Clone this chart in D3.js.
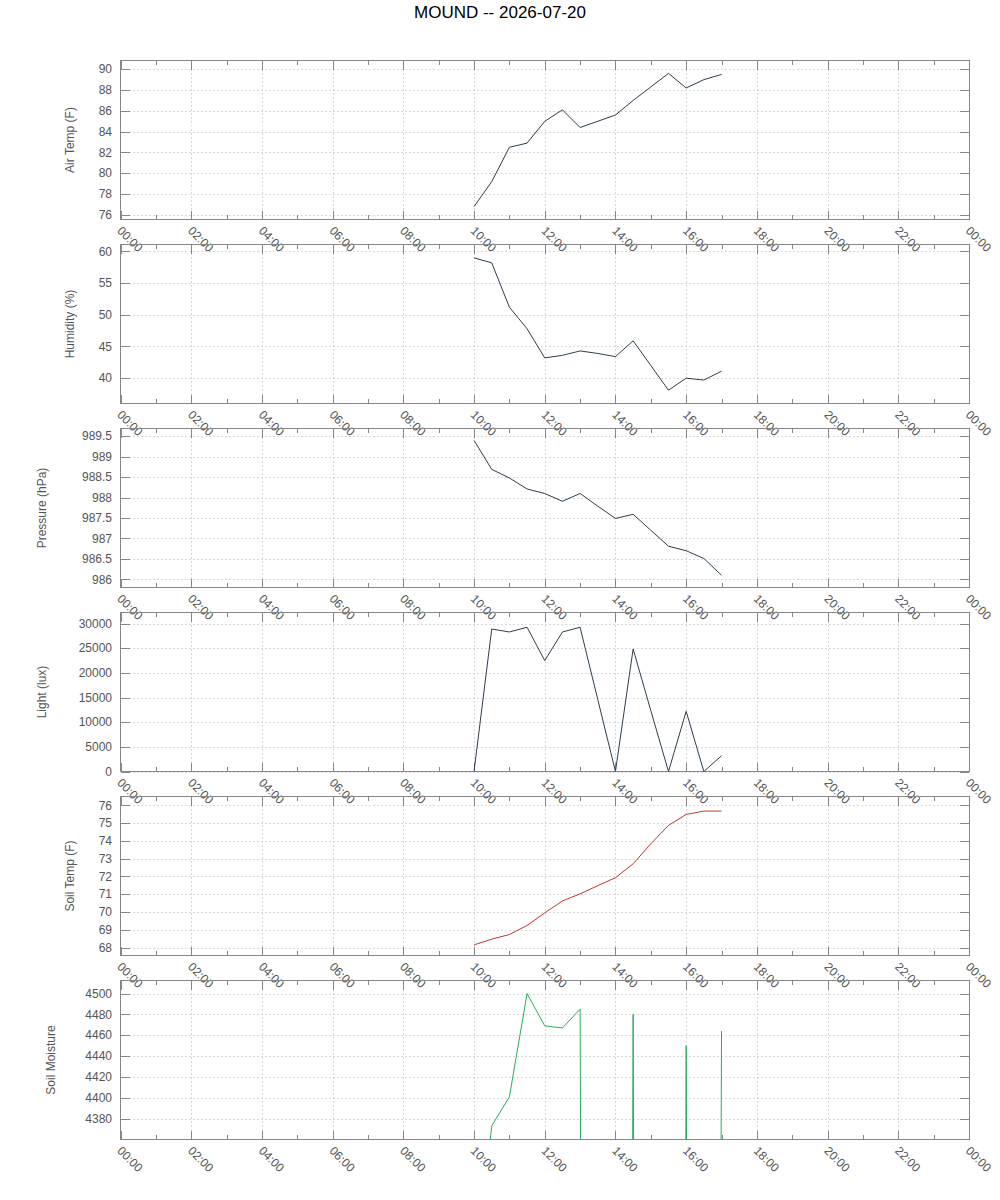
<!DOCTYPE html>
<html>
<head>
<meta charset="utf-8">
<script src="https://cdn.jsdelivr.net/npm/d3@7/dist/d3.min.js"></script>
<style>
  html, body { margin: 0; padding: 0; background: #fff; }
  svg { display: block; font-family: "Liberation Sans", Arial, sans-serif; }
</style>
</head>
<body>
<svg id="chart" width="1000" height="1200"></svg>
<script>
// ---- data ----
const chartTitle = "MOUND -- 2026-07-20";
const times = ["10:00","10:30","11:00","11:30","12:00","12:30","13:00","13:30",
               "14:00","14:30","15:00","15:30","16:00","16:30","17:00"];
const airTemp   = [76.8, 79.2, 82.5, 82.9, 85.0, 86.1, 84.4, 85.0, 85.6, 87.0, 88.3, 89.6, 88.2, 89.0, 89.5];
const humidity  = [59.0, 58.2, 51.2, 47.8, 43.2, 43.6, 44.3, 43.9, 43.4, 45.9, 42.0, 38.1, 40.0, 39.7, 41.1];
const pressure  = [989.40, 988.69, 988.48, 988.21, 988.10, 987.91, 988.10, 987.79, 987.49, 987.59, 987.20, 986.81, 986.70, 986.51, 986.10];
const light     = [0, 28900, 28300, 29250, 22500, 28300, 29250, 14600, 0, 24850, 12350, 0, 12200, 0, 3200];
const soilTemp  = [68.15, 68.47, 68.73, 69.24, 69.95, 70.62, 71.02, 71.48, 71.93, 72.71, 73.84, 74.87, 75.49, 75.68, 75.68];
const soilMoist = [4210, 4373, 4401, 4500, 4469, 4467, 4485, 0, 0, 4480, 0, 0, 4450, 0, 4464];

const xTickLabels = ["00:00","02:00","04:00","06:00","08:00","10:00","12:00",
                     "14:00","16:00","18:00","20:00","22:00","00:00"];

const panelLabels = ["Air Temp (F)", "Humidity (%)", "Pressure (hPa)", "Light (lux)", "Soil Temp (F)", "Soil Moisture"];
const panelSeries = [airTemp, humidity, pressure, light, soilTemp, soilMoist];
const panelDomains = [[75.56, 90.84], [36.0, 61.1], [985.80, 989.69], [0, 32250], [67.55, 76.5], [4360, 4512.5]];
const panelTicks = [
  [76, 78, 80, 82, 84, 86, 88, 90],
  [40, 45, 50, 55, 60],
  [986, 986.5, 987, 987.5, 988, 988.5, 989, 989.5],
  [0, 5000, 10000, 15000, 20000, 25000, 30000],
  [68, 69, 70, 71, 72, 73, 74, 75, 76],
  [4380, 4400, 4420, 4440, 4460, 4480, 4500]
];
const panelColors = ["#2c3e50", "#2c3e50", "#2c3e50", "#2c3e50", "#c0392b", "#27ae60"];

// ---- layout ----
const W = 1000;
const left = 120.5, right = 969;
const panelTop0 = 60, panelStep = 184, panelH = 159;
const tickMajor = 9, tickMinor = 4.5;
const axisColor = "#888", gridColor = "#d8d8d8", textColor = "#555";

const svg = d3.select("#chart");

svg.append("text")
  .attr("x", W / 2).attr("y", 18)
  .attr("text-anchor", "middle")
  .attr("font-size", 17)
  .attr("fill", "#000")
  .text(chartTitle);

const toHours = s => { const [h, m] = s.split(":").map(Number); return h + m / 60; };
const x = d3.scaleLinear().domain([0, 24]).range([left, right]);
const majorHours = d3.range(0, 25, 2);
const minorHours = d3.range(1, 24, 2);
const fmt = d3.format("~g");

panelSeries.forEach((series, i) => {
  const top = panelTop0 + i * panelStep + 0.5;
  const bottom = top + panelH;
  const y = d3.scaleLinear().domain(panelDomains[i]).range([bottom, top]);
  const g = svg.append("g");

  const clipId = "clip" + i;
  svg.append("clipPath").attr("id", clipId)
    .append("rect").attr("x", left).attr("y", top).attr("width", right - left).attr("height", bottom - top);

  // grid
  const grid = g.append("g").attr("stroke", gridColor).attr("stroke-dasharray", "2,2")
    .attr("shape-rendering", "crispEdges");
  majorHours.slice(1, -1).forEach(h => {
    const xx = Math.round(x(h)) + 0.5;
    grid.append("line").attr("x1", xx).attr("x2", xx).attr("y1", top).attr("y2", bottom);
  });
  panelTicks[i].forEach(v => {
    const yy = Math.round(y(v)) + 0.5;
    grid.append("line").attr("x1", left).attr("x2", right).attr("y1", yy).attr("y2", yy);
  });

  // ticks
  const tk = g.append("g").attr("stroke", axisColor).attr("shape-rendering", "crispEdges");
  majorHours.forEach(h => {
    const xx = Math.round(x(h)) + 0.5;
    tk.append("line").attr("x1", xx).attr("x2", xx).attr("y1", bottom).attr("y2", bottom - tickMajor);
    tk.append("line").attr("x1", xx).attr("x2", xx).attr("y1", top).attr("y2", top + tickMajor);
  });
  minorHours.forEach(h => {
    const xx = Math.round(x(h)) + 0.5;
    tk.append("line").attr("x1", xx).attr("x2", xx).attr("y1", bottom).attr("y2", bottom - tickMinor);
    tk.append("line").attr("x1", xx).attr("x2", xx).attr("y1", top).attr("y2", top + tickMinor);
  });
  panelTicks[i].forEach(v => {
    const yy = Math.round(y(v)) + 0.5;
    tk.append("line").attr("x1", left).attr("x2", left + tickMajor).attr("y1", yy).attr("y2", yy);
    tk.append("line").attr("x1", right).attr("x2", right - tickMajor).attr("y1", yy).attr("y2", yy);
  });

  // border
  g.append("rect").attr("x", left).attr("y", top).attr("width", right - left).attr("height", bottom - top)
    .attr("fill", "none").attr("stroke", axisColor).attr("shape-rendering", "crispEdges");

  // y tick labels
  let maxChars = 0;
  panelTicks[i].forEach(v => {
    const s = fmt(v);
    maxChars = Math.max(maxChars, s.length);
    g.append("text")
      .attr("x", 112).attr("y", y(v))
      .attr("dy", "0.35em")
      .attr("text-anchor", "end")
      .attr("font-size", 12)
      .attr("fill", textColor)
      .text(s);
  });

  // y label (offset by widest tick label, in characters)
  const lx = 88 - 9.2 * maxChars;
  g.append("text")
    .attr("transform", `translate(${lx},${(top + bottom) / 2}) rotate(-90)`)
    .attr("text-anchor", "middle")
    .attr("dy", "0.35em")
    .attr("font-size", 12)
    .attr("fill", textColor)
    .text(panelLabels[i]);

  // x tick labels
  xTickLabels.forEach((lab, k) => {
    const xx = x(majorHours[k]);
    g.append("text")
      .attr("transform", `translate(${xx - 1},${bottom + 9}) rotate(45)`)
      .attr("text-anchor", "start")
      .attr("dy", "0.35em")
      .attr("font-size", 12)
      .attr("fill", textColor)
      .text(lab);
  });

  // data line
  const line = d3.line()
    .x((d, j) => x(toHours(times[j])))
    .y(d => y(d));
  g.append("path")
    .datum(series)
    .attr("clip-path", `url(#${clipId})`)
    .attr("fill", "none")
    .attr("stroke", panelColors[i])
    .attr("stroke-width", 1)
    .attr("d", line);
});
</script>
</body>
</html>
